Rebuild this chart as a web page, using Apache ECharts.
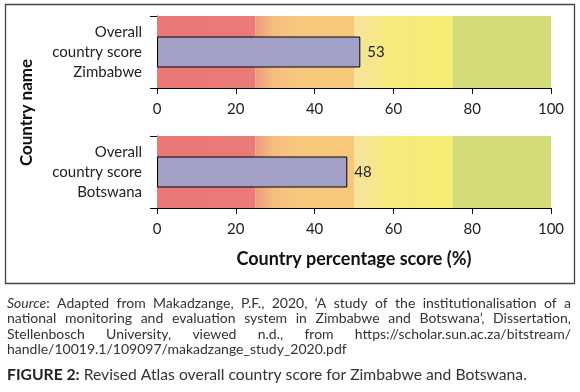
<!DOCTYPE html>
<html><head><meta charset="utf-8">
<script src="https://cdn.jsdelivr.net/npm/echarts@6/dist/echarts.min.js"></script>
<style>html,body{margin:0;padding:0;background:#fff}#c{width:580px;height:392px}</style>
</head><body><div id="c"></div>
<script>
// ---- data ----
const categories = ['Overall\ncountry score\nZimbabwe', 'Overall\ncountry score\nBotswana'];
const barValues = [51.6, 48.3];
const valueLabels = ['53', '48'];
const xMin = 0, xMax = 100, xInterval = 20;
const bandEdges = [0, 25, 50, 75, 100];
const xAxisTitle = 'Country percentage score (%)';
const yAxisTitle = 'Country name';
const sourceLines = [
  'Source: Adapted from Makadzange, P.F., 2020, \u2018A study of the institutionalisation of a',
  'national monitoring and evaluation system in Zimbabwe and Botswana\u2019, Dissertation,',
  'Stellenbosch University, viewed n.d., from https://scholar.sun.ac.za/bitstream/',
  'handle/10019.1/109097/makadzange_study_2020.pdf'
];
const captionBold = 'FIGURE 2:';
const captionRest = ' Revised Atlas overall country score for Zimbabwe and Botswana.';

// ---- styles ----
const FONT = 'Lato';
const bandColors = [
  {type:'linear',x:0,y:0,x2:1,y2:0,colorStops:[{offset:0,color:'#ea7878'},{offset:1,color:'#ea7a78'}]},
  {type:'linear',x:0,y:0,x2:1,y2:0,colorStops:[{offset:0,color:'#ee9a7d'},{offset:0.18,color:'#f6bd7f'},{offset:0.45,color:'#f8c87d'},{offset:1,color:'#f8c87a'}]},
  {type:'linear',x:0,y:0,x2:1,y2:0,colorStops:[{offset:0,color:'#f6e3a0'},{offset:0.35,color:'#f6ea7c'},{offset:1,color:'#f5ec74'}]},
  {type:'linear',x:0,y:0,x2:1,y2:0,colorStops:[{offset:0,color:'#d3dc78'},{offset:1,color:'#d4dc7a'}]}
];
const gridTops = [16, 136];
const grids = gridTops.map(t => ({left:157, top:t, width:394, height:72}));

const xAxes = gridTops.map((t,i) => ({
  type:'value', gridIndex:i, min:xMin, max:xMax, interval:xInterval,
  axisLine:{show:true, lineStyle:{color:'#000', width:1}},
  axisTick:{show:true, length:6, lineStyle:{color:'#000'}},
  splitLine:{show:false},
  axisLabel:{color:'#222', fontSize:15, fontFamily:FONT, margin:14}
}));
const yAxes = gridTops.map((t,i) => ({
  type:'category', gridIndex:i, data:[categories[i]],
  axisLine:{show:true, lineStyle:{color:'#000', width:1}},
  axisTick:{show:true, length:7, alignWithLabel:false, lineStyle:{color:'#000'}},
  axisLabel:{color:'#222', fontSize:15, fontFamily:FONT, margin:15, lineHeight:20, align:'right'}
}));

const series = [];
gridTops.forEach((t,i) => {
  series.push({
    type:'bar', xAxisIndex:i, yAxisIndex:i, data:[], z:1, silent:true,
    markArea:{silent:true, data: bandEdges.slice(0,-1).map((e,k) => [
      {xAxis:e, itemStyle:{color:bandColors[k], borderWidth:0}}, {xAxis:bandEdges[k+1]}
    ])}
  });
  series.push({
    type:'bar', xAxisIndex:i, yAxisIndex:i, z:3, barWidth:31,
    data:[barValues[i]],
    itemStyle:{color:'#a3a0c8', borderColor:'#000', borderWidth:1},
    label:{show:true, position:'right', distance:7, color:'#222', fontSize:15, fontFamily:FONT,
      formatter: () => valueLabels[i]}
  });
});

// ---- justified source text ----
const ctx = document.createElement('canvas').getContext('2d');
const SRC_SIZE = 14;
function mw(text, style){ ctx.font = style + ' ' + SRC_SIZE + 'px ' + FONT; return ctx.measureText(text).width; }
const L = 7, R = 571;
const lineY = [303, 318.5, 334, 349.5];
const graphics = [];
sourceLines.forEach((line, li) => {
  const words = line.split(' ');
  const items = words.map(wd => {
    if (wd === 'Source:') return {text:'{i|Source}:', w: mw('Source','italic') + mw(':','normal')};
    return {text: wd, w: mw(wd,'normal')};
  });
  const sumW = items.reduce((a,b)=>a+b.w,0);
  const justify = li < sourceLines.length - 1;
  const gap = justify ? (R - L - sumW) / (items.length - 1) : mw(' ','normal');
  let x = L;
  items.forEach(it => {
    graphics.push({type:'text', x:x, y:lineY[li], silent:true, style:{
      text: it.text, fontSize:SRC_SIZE, fontFamily:FONT, fill:'#333', verticalAlign:'middle', align:'left',
      rich:{i:{fontStyle:'italic', fontSize:SRC_SIZE, fontFamily:FONT, fill:'#333'}}
    }});
    x += it.w + gap;
  });
});

graphics.push(
  {type:'rect', silent:true, shape:{x:5.5, y:4.5, width:569, height:279}, style:{fill:'none', stroke:'#444', lineWidth:1.3}},
  {type:'text', x:354, y:259, silent:true, style:{text:xAxisTitle, fontSize:18, fontWeight:'bold', fontFamily:FONT, fill:'#111', align:'center', verticalAlign:'middle'}},
  {type:'text', x:27, y:112.5, rotation:Math.PI/2, silent:true, style:{text:yAxisTitle, fontSize:17, fontWeight:'bold', fontFamily:FONT, fill:'#111', align:'center', verticalAlign:'middle'}},
  {type:'text', x:7, y:375, silent:true, style:{text:'{b|' + captionBold + '}' + captionRest, fontSize:15.7, fontFamily:FONT, fill:'#333', verticalAlign:'middle',
    rich:{b:{fontWeight:'bold', fontSize:15.7, fontFamily:FONT, fill:'#222'}}}}
);

const chart = echarts.init(document.getElementById('c'), null, {renderer:'canvas'});
chart.setOption({
  backgroundColor:'#fff', animation:false,
  grid: grids, xAxis: xAxes, yAxis: yAxes, series: series, graphic: graphics
});
</script></body></html>
